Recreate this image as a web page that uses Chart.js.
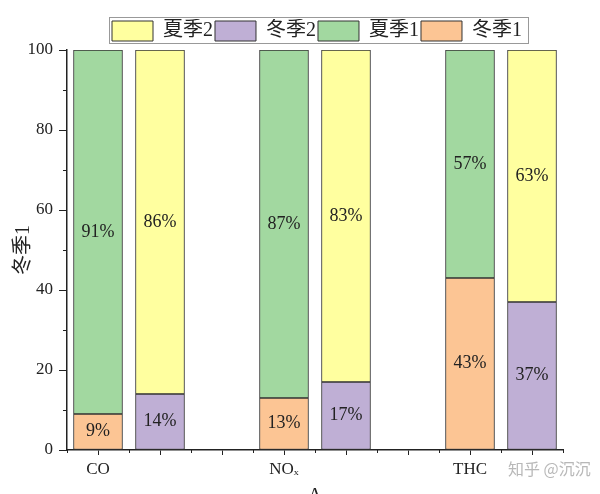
<!DOCTYPE html>
<html>
<head>
<meta charset="utf-8">
<script src="https://cdn.jsdelivr.net/npm/chart.js@4.4.0/dist/chart.umd.min.js"></script>
<style>
    html, body { margin: 0; padding: 0; background: #fff; }
</style>
</head>
<body>
<canvas id="chart" width="600" height="494"></canvas>
<script>
// ---------------- Data ----------------

const categories = ["CO", "NOₓ", "THC"];

const winter1 = [9, 13, 43];
const summer1 = [91, 87, 57];
const winter2 = [14, 17, 37];
const summer2 = [86, 83, 63];

const yTicks = [0, 20, 40, 60, 80, 100];

const seriesNames = ["冬季1", "夏季1", "冬季2", "夏季2"];
const yTitle = "冬季1";
const xTitle = "A";

// ---------------- Helpers ----------------

const SERIF = "'Liberation Serif', 'Noto Sans CJK SC', serif";
const INK = "#222";

// group i -> slot i*3 (first bar) and i*3+1 (second bar)
function toPoints(values, offset) {
    return values.map((v, i) => ({ x: i * 3 + offset, y: v }));
}

function barDataset(label, values, offset, color) {
    return {
        label: label,
        data: toPoints(values, offset),
        backgroundColor: color,
        borderColor: "#333",
        borderWidth: 1,
        borderSkipped: false,
        barThickness: 49
    };
}

// percent labels in the middle of each segment
const segmentLabels = {
    id: "segmentLabels",
    afterDatasetsDraw(chart) {
        const ctx = chart.ctx;
        ctx.save();
        ctx.font = "18px " + SERIF;
        ctx.fillStyle = INK;
        ctx.textAlign = "center";
        ctx.textBaseline = "middle";
        chart.data.datasets.forEach((ds, i) => {
            chart.getDatasetMeta(i).data.forEach((bar, j) => {
                ctx.fillText(ds.data[j].y + "%", bar.x, (bar.y + bar.base) / 2);
            });
        });
        ctx.restore();
    }
};

// legend size / placement and frame
const legendPlace = {
    id: "legendPlace",
    beforeInit(chart) {
        const fit = chart.legend.fit;
        chart.legend.fit = function () {
            fit.call(this);
            this.height = 50;
        };
    },
    afterLayout(chart) {
        const lg = chart.legend;
        lg.left += 110;
        lg.right += 110;
        lg.top += 19;
        lg.bottom += 19;
    },
    afterDraw(chart) {
        const lg = chart.legend;
        const hb = lg.legendHitBoxes;
        if (!hb || !hb.length) return;
        const first = hb[0];
        const last = hb[hb.length - 1];
        const top = lg.top + 2;
        const ctx = chart.ctx;
        ctx.save();
        ctx.strokeStyle = "#999";
        ctx.lineWidth = 1;
        ctx.strokeRect(Math.round(first.left - 3) + 0.5, Math.round(top - 4) + 0.5,
            Math.round(last.left + last.width + 6 - (first.left - 3)), 26);
        ctx.restore();
    }
};

// minor ticks, watermark, cut-off x title
const extras = {
    id: "extras",
    afterDraw(chart) {
        const { ctx, scales: { x, y } } = chart;
        ctx.save();
        ctx.strokeStyle = INK;
        ctx.lineWidth = 1;
        for (let v = 10; v < 100; v += 20) {
            const py = Math.round(y.getPixelForValue(v)) + 0.5;
            ctx.beginPath();
            ctx.moveTo(y.right - 4, py);
            ctx.lineTo(y.right, py);
            ctx.stroke();
        }
        for (let v = -0.5; v <= 7.5; v += 1) {
            const px = Math.round(x.getPixelForValue(v)) + 0.5;
            ctx.beginPath();
            ctx.moveTo(px, x.top);
            ctx.lineTo(px, x.top + 3);
            ctx.stroke();
        }

        ctx.fillStyle = INK;
        ctx.font = "20px " + SERIF;
        ctx.textAlign = "center";
        ctx.textBaseline = "top";
        ctx.fillText(xTitle, (x.left + x.right) / 2, 487);

        ctx.fillStyle = "rgba(160,160,160,0.75)";
        ctx.font = "16px 'Noto Sans CJK SC'";
        ctx.textAlign = "left";
        ctx.textBaseline = "middle";
        ctx.fillText("知乎 @沉沉", 508, 469);
        ctx.restore();
    }
};

// ---------------- Chart ----------------

const ctx = document.getElementById("chart").getContext("2d");

new Chart(ctx, {

    type: "bar",

    data: {
        datasets: [
            barDataset(seriesNames[0], winter1, 0, "#FCC594"),
            barDataset(seriesNames[1], summer1, 0, "#A2D8A0"),
            barDataset(seriesNames[2], winter2, 1, "#BFAFD5"),
            barDataset(seriesNames[3], summer2, 1, "#FFFF9F")
        ]
    },

    options: {

        responsive: false,
        animation: false,

        layout: {
            padding: { top: 0, left: 0, right: 37, bottom: 0 }
        },

        plugins: {

            legend: {
                reverse: true,
                align: "start",
                labels: {
                    boxWidth: 41,
                    boxHeight: 20,
                    padding: 2,
                    color: INK,
                    font: { size: 20, family: SERIF }
                }
            },

            tooltip: { enabled: false }
        },

        scales: {

            x: {
                type: "linear",
                min: -0.5,
                max: 7.5,
                offset: false,
                stacked: true,
                afterBuildTicks: scale => {
                    const slots = [];
                    for (let s = 0; s <= 7; s++) slots.push({ value: s });
                    scale.ticks = slots;
                },
                afterFit: scale => { scale.height = 44; },
                ticks: {
                    autoSkip: false,
                    maxRotation: 0,
                    padding: 4,
                    color: INK,
                    font: { size: 17, family: SERIF },
                    callback: value => {
                        const i = value / 3;
                        return Number.isInteger(i) && i < categories.length ? categories[i] : "";
                    }
                },
                grid: {
                    offset: false,
                    drawOnChartArea: false,
                    tickLength: 5,
                    tickColor: INK
                },
                border: { color: INK, width: 1.5 }
            },

            y: {
                min: 0,
                max: 100,
                stacked: true,
                afterBuildTicks: scale => {
                    scale.ticks = yTicks.map(v => ({ value: v }));
                },
                afterFit: scale => { scale.width = 67; },
                ticks: {
                    padding: 6,
                    color: INK,
                    font: { size: 17, family: SERIF }
                },
                grid: {
                    drawOnChartArea: false,
                    tickLength: 8,
                    tickColor: INK
                },
                border: { color: INK, width: 1.5 },
                title: {
                    display: true,
                    text: yTitle,
                    color: INK,
                    font: { size: 20, family: SERIF },
                    padding: { top: 12, bottom: 0 }
                }
            }
        }
    },

    plugins: [segmentLabels, legendPlace, extras]

});
</script>
</body>
</html>
